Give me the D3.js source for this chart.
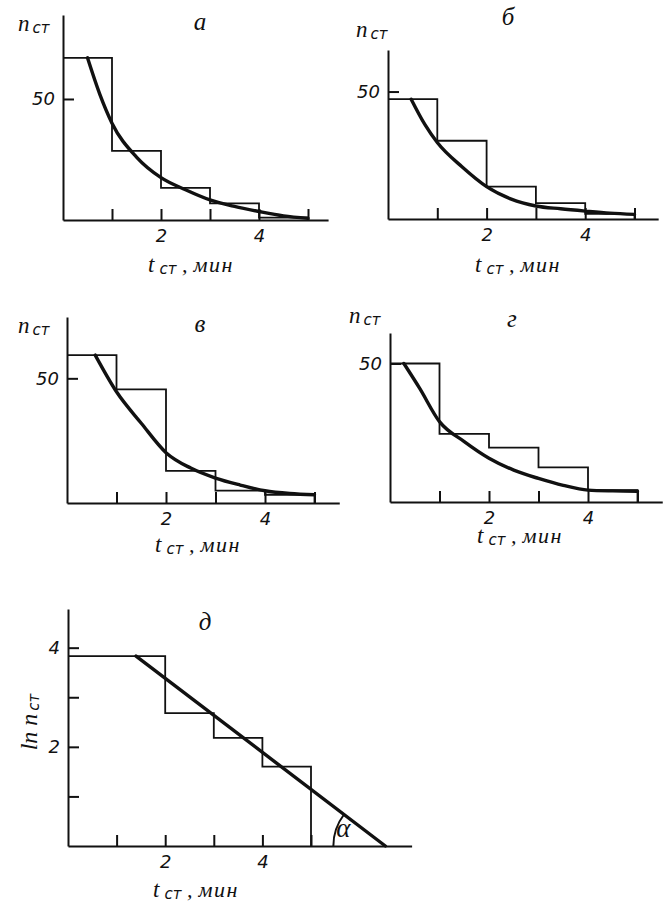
<!DOCTYPE html>
<html>
<head>
<meta charset="utf-8">
<script src="https://d3js.org/d3.v7.min.js"></script>
<style>
body { margin: 0; background: #fff; }
svg text { fill: #111; }
.num { font-family: "DejaVu Sans", sans-serif; font-style: italic; font-size: 18px; }
.lbl { font-family: "Liberation Serif", serif; font-style: italic; }
.sub { font-family: "DejaVu Sans", sans-serif; font-style: italic; }
.axis path, .axis line { stroke: #111; stroke-width: 2; }
.hist { fill: none; stroke: #111; stroke-width: 1.8; }
.fit { fill: none; stroke: #111; stroke-width: 3.4; stroke-linecap: round; }
</style>
</head>
<body>
<svg id="chart" width="664" height="903"></svg>
<script>
//////////
// DATA //
//////////

// interval edges, minutes
const edges = [0, 1, 2, 3, 4, 5]
const x_ticks = [1, 2, 3, 4, 5]
const x_labels = [2, 4]

// а
const hist_a = [67, 28.6, 13.3, 6.9, 1]
const curve_a = [[0.5, 67], [0.75, 52], [1, 40], [1.5, 26], [2, 17.5], [2.5, 12.5], [3, 8.3], [3.5, 5.6], [4, 3.5], [4.5, 1.7], [5, 0.7]]

// б
const hist_b = [47, 30.7, 12.7, 6.2, 2]
const curve_b = [[0.47, 47], [0.75, 37], [1, 30], [1.5, 20.5], [2, 12.7], [2.5, 7.8], [3, 5.1], [3.5, 4], [4, 3.1], [4.5, 2.3], [5, 1.8]]

// в
const hist_v = [59.3, 45.6, 12.9, 5, 3.3]
const curve_v = [[0.57, 59.3], [1, 44.6], [1.5, 32], [2, 20.2], [2.5, 14], [3, 10], [3.5, 7.2], [4, 4.9], [4.5, 3.8], [5, 3.3]]

// г
const hist_g = [50, 24.6, 19.6, 12.5, 4.3]
const curve_g = [[0.28, 50], [0.6, 41], [1, 29], [1.5, 21.8], [2, 15.8], [2.5, 11.5], [3, 8.5], [3.5, 6], [4, 4.3], [4.5, 4], [5, 3.9]]

// д (ln n)
const hist_d = [3.83, 3.83, 2.68, 2.18, 1.6]
const line_d = [[1.4, 3.83], [6.53, 0]]
const y_ticks_d = [1, 2, 3, 4]
const y_labels_d = [2, 4]


///////////
// SETUP //
///////////

const svg = d3.select("#chart")

// layout of each small chart (pixels)
const panels = [
    { title: "а", hist: hist_a, curve: curve_a, left: 63, base: 220, x_unit: 49, x_max: 5.41, y_top: 15, y_max: 84.7,
      y_ticks: [50], y_labels: [50], n_at: [18, 31], title_at: [200, 30], t_at: [148, 272] }
  , { title: "б", hist: hist_b, curve: curve_b, left: 388, base: 219, x_unit: 49.3, x_max: 5.48, y_top: 50, y_max: 66.3,
      y_ticks: [50], y_labels: [50], n_at: [356, 37], title_at: [508, 25], t_at: [475, 272] }
  , { title: "в", hist: hist_v, curve: curve_v, left: 67, base: 503, x_unit: 49.5, x_max: 5.5, y_top: 317, y_max: 74.6,
      y_ticks: [50], y_labels: [50], n_at: [18, 333], title_at: [200, 332], t_at: [155, 552] }
  , { title: "г", hist: hist_g, curve: curve_g, left: 390, base: 502, x_unit: 49.5, x_max: 5.5, y_top: 333, y_max: 61,
      y_ticks: [50], y_labels: [50], n_at: [349, 323], title_at: [512, 327], t_at: [477, 543] }
  , { title: "д", hist: hist_d, curve: line_d, left: 68, base: 846, x_unit: 48.6, x_max: 7.07, y_top: 609, y_max: 4.78,
      y_ticks: y_ticks_d, y_labels: y_labels_d, n_at: null, title_at: [205, 630], t_at: [153, 897], straight: true }
]


//////////
// DRAW //
//////////

panels.forEach(draw_panel)
draw_angle(panels[4])


///////////////
// FUNCTIONS //
///////////////

function draw_panel(p){
    const x = d3.scaleLinear()
        .domain([0, p.x_max])
        .range([p.left, p.left + p.x_max * p.x_unit])

    const y = d3.scaleLinear()
        .domain([0, p.y_max])
        .range([p.base, p.y_top])

    const g = svg.append("g")

    // histogram outline as a staircase
    const steps = []
    p.hist.forEach((h, i) => {
        steps.push([edges[i], h], [edges[i + 1], h])
    })
    steps.push([edges[edges.length - 1], 0])

    const line = d3.line()
        .x(d => x(d[0]))
        .y(d => y(d[1]))

    g.append("path")
        .attr("class", "hist")
        .attr("d", line(steps))

    // fitted curve
    g.append("path")
        .attr("class", "fit")
        .attr("d", line.curve(p.straight ? d3.curveLinear : d3.curveMonotoneX)(p.curve))

    // axes
    g.append("g")
        .attr("class", "axis num")
        .attr("transform", `translate(0,${p.base})`)
        .call(d3.axisBottom(x)
            .tickValues(x_ticks)
            .tickSizeInner(-11)
            .tickSizeOuter(0)
            .tickPadding(9)
            .tickFormat(d => x_labels.includes(d) ? d : ""))

    g.append("g")
        .attr("class", "axis num")
        .attr("transform", `translate(${p.left},0)`)
        .call(d3.axisLeft(y)
            .tickValues(p.y_ticks)
            .tickSizeInner(-11)
            .tickSizeOuter(0)
            .tickPadding(8)
            .tickFormat(d => p.y_labels.includes(d) ? d : ""))

    g.selectAll(".axis text").attr("font-size", null).attr("font-family", null).attr("fill", "#111")
    g.selectAll(".axis .domain").attr("stroke", "#111")

    // title letter
    g.append("text")
        .attr("class", "lbl")
        .attr("x", p.title_at[0])
        .attr("y", p.title_at[1])
        .attr("text-anchor", "middle")
        .attr("font-size", 25)
        .text(p.title)

    // y label
    let n
    if (p.n_at){
        n = g.append("text")
            .attr("class", "lbl")
            .attr("x", p.n_at[0])
            .attr("y", p.n_at[1])
            .attr("font-size", 23)
            .text("n")
    } else {
        n = g.append("text")
            .attr("class", "lbl")
            .attr("transform", "translate(37,722) rotate(-90)")
            .attr("text-anchor", "middle")
            .attr("font-size", 24)
            .text("ln n")
    }
    n.append("tspan")
        .attr("class", "sub")
        .attr("font-size", 15)
        .attr("dx", 3)
        .attr("dy", 2)
        .text("ст")

    // x label
    const t = g.append("text")
        .attr("class", "lbl")
        .attr("x", p.t_at[0])
        .attr("y", p.t_at[1])
        .attr("font-size", 23)
        .text("t")
    t.append("tspan")
        .attr("class", "sub")
        .attr("font-size", 15)
        .attr("dx", 5)
        .attr("dy", 2)
        .text("ст")
    t.append("tspan")
        .attr("font-size", 22)
        .attr("dy", -2)
        .text(" ,")
    t.append("tspan")
        .attr("font-size", 22)
        .attr("dx", 6)
        .attr("letter-spacing", 1.5)
        .text("мин")

    p.x = x
    p.y = y
}

function draw_angle(p){
    const [a, b] = p.curve
    const cx = p.x(b[0])
    const cy = p.y(b[1])
    const ang = Math.atan2(p.y(a[1]) - cy, p.x(a[0]) - cx)
    const r = 52

    const arc = d3.path()
    arc.arc(cx, cy, r, Math.PI, ang, false)

    svg.append("path")
        .attr("d", arc.toString())
        .attr("fill", "none")
        .attr("stroke", "#111")
        .attr("stroke-width", 2)

    svg.append("text")
        .attr("class", "lbl")
        .attr("x", cx - 49)
        .attr("y", cy - 9)
        .attr("font-size", 27)
        .text("α")
}
</script>
</body>
</html>
